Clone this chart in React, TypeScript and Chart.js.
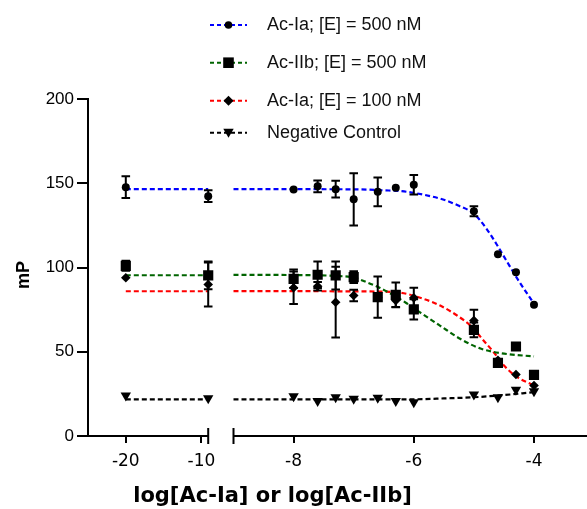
import React, { useEffect, useRef } from 'react';
import { Chart, registerables, LinearScale } from 'chart.js';

// ---------------- data ----------------
const SERIES_NAMES = ['Ac-Ia; [E] = 500 nM', 'Ac-IIb; [E] = 500 nM', 'Ac-Ia; [E] = 100 nM', 'Negative Control'];
const SERIES_COLORS = ['#0000ff', '#006400', '#ff0000', '#000000'];

// log concentration of measured points (left segment: -20 and ~-9.1)
const X_POINTS = [-20, -9.1, -8, -7.6, -7.3, -7.0, -6.6, -6.3, -6.0, -5.0, -4.6, -4.3, -4.0];

const IA500_Y = [147.7, 142.3, 146.3, 148.2, 146.5, 140.5, 144.9, 147.3, 149.1, 133.4, 107.9, 97.2, 77.9];
const IA500_SD = [6.5, 3.5, 0, 3.5, 5, 15.5, 8.5, 0, 5.8, 3, 0, 0, 0];

const IIB500_Y = [101.0, 95.3, 93.3, 95.7, 95.3, 94.3, 82.4, 83.8, 75.1, 63.0, 43.4, 53.1, 36.3];
const IIB500_SD = [3, 8.2, 5.5, 7.9, 8.3, 3.5, 12.2, 7.3, 6, 4.4, 0, 0, 0];

const IA100_Y = [93.9, 89.9, 88.0, 88.9, 79.4, 83.4, 82.0, 80.4, 82.0, 68.5, 45.0, 36.5, 30.0];
const IA100_SD = [0, 13, 9.6, 2.5, 21, 3.4, 0, 4, 6, 6.4, 0, 0, 0];

const NEG_Y = [24.0, 22.4, 23.6, 20.7, 23.0, 22.1, 22.7, 20.7, 20.1, 24.6, 23.0, 27.4, 26.5];
const NEG_SD = [0, 0, 0, 0, 0, 0, 0, 0, 0, 0, 0, 0, 0];

// fitted curves
const FIT_LEFT_X = [-20, -9.1];
const IA500_FIT_LEFT = [146.5, 146.5];
const IIB500_FIT_LEFT = [95.4, 95.4];
const IA100_FIT_LEFT = [85.9, 85.9];
const NEG_FIT_LEFT = [21.7, 21.7];

const IA500_FIT_X = [-9, -7, -6.5, -6.2, -5.85, -5.5, -5.25, -5.0, -4.8, -4.6, -4.45, -4.28, -4.0];
const IA500_FIT_Y = [146.5, 146.4, 145.8, 145.3, 143.3, 140.2, 136.6, 131.9, 123.5, 112.5, 103.5, 93.5, 78.5];

const IIB500_FIT_X = [-9, -7.8, -7.3, -7.0, -6.78, -6.56, -6.34, -6.12, -5.89, -5.56, -5.23, -4.89, -4.56, -4.0];
const IIB500_FIT_Y = [95.6, 95.5, 95.0, 94.0, 91.2, 87.8, 83.6, 78.8, 73.2, 65.4, 57.7, 51.9, 49.2, 47.2];

const IA100_FIT_X = [-9, -6.8, -6.22, -5.84, -5.56, -5.28, -5.06, -4.84, -4.67, -4.5, -4.28, -4.0];
const IA100_FIT_Y = [86.0, 85.8, 85.0, 81.4, 77.4, 71.5, 65.6, 56.7, 49.7, 41.8, 35.0, 30.0];

const NEG_FIT_X = [-9, -6, -5.5, -5.0, -4.5, -4.0];
const NEG_FIT_Y = [21.7, 21.8, 22.3, 23.0, 24.3, 26.0];

const X_TICKS = [-20, -10, -8, -6, -4];
const Y_TICKS = [0, 50, 100, 150, 200];
const X_TITLE = 'log[Ac-Ia] or log[Ac-IIb]';
const Y_TITLE = 'mP';

// ---------------- broken x axis scale ----------------
const BREAK = { leftMin: -25, leftMax: -9.1, leftUnit: 7.56, rightMin: -9, rightStart: 145.5, rightUnit: 60.1 };

class BrokenLinearScale extends LinearScale {
  static id = 'brokenLinear';
  getPixelForValue(value: any) {
    if (value === null || value === undefined || Number.isNaN(value)) return NaN;
    if (value <= (BREAK.leftMax + BREAK.rightMin) / 2) {
      return this.left + (value - BREAK.leftMin) * BREAK.leftUnit;
    }
    return this.left + BREAK.rightStart + (value - BREAK.rightMin) * BREAK.rightUnit;
  }
  getValueForPixel(pixel: number) {
    const rs = this.left + BREAK.rightStart;
    if (pixel < rs) return BREAK.leftMin + (pixel - this.left) / BREAK.leftUnit;
    return BREAK.rightMin + (pixel - rs) / BREAK.rightUnit;
  }
}

Chart.register(...registerables, BrokenLinearScale);

const MARKERS = [
  { style: 'circle', radius: 4, rotation: 0 },
  { style: 'rect', radius: 7.2, rotation: 0 },
  { style: 'rectRot', radius: 4.8, rotation: 0 },
  { style: 'triangle', radius: 6, rotation: 180 },
];

function pts(xs: number[], ys: number[]) {
  return xs.map((x, i) => ({ x, y: ys[i] }));
}

function fitData(left: number[], xs: number[], ys: number[]) {
  return [...pts(FIT_LEFT_X, left), { x: -9.05, y: null }, ...pts(xs, ys)];
}

function drawMarker(ctx: CanvasRenderingContext2D, kind: number, x: number, y: number) {
  ctx.beginPath();
  if (kind === 0) {
    ctx.arc(x, y, 3.8, 0, Math.PI * 2);
  } else if (kind === 1) {
    ctx.rect(x - 5.3, y - 5.3, 10.6, 10.6);
  } else if (kind === 2) {
    ctx.moveTo(x, y - 5);
    ctx.lineTo(x + 5, y);
    ctx.lineTo(x, y + 5);
    ctx.lineTo(x - 5, y);
    ctx.closePath();
  } else {
    ctx.moveTo(x - 5.2, y - 4);
    ctx.lineTo(x + 5.2, y - 4);
    ctx.lineTo(x, y + 5);
    ctx.closePath();
  }
  ctx.fillStyle = '#000';
  ctx.fill();
}

const overlayPlugin = {
  id: 'prismOverlay',
  beforeDatasetDraw(chart: any, args: any) {
    const ds = chart.data.datasets[args.index];
    const sd: number[] | undefined = ds.errorBars;
    if (!sd) return;
    const xs = chart.scales.x;
    const ys = chart.scales.y;
    const ctx = chart.ctx;
    ctx.save();
    ctx.strokeStyle = '#000';
    ctx.lineWidth = 2;
    ds.data.forEach((p: any, i: number) => {
      if (!sd[i]) return;
      const x = xs.getPixelForValue(p.x);
      const yt = ys.getPixelForValue(p.y + sd[i]);
      const yb = ys.getPixelForValue(p.y - sd[i]);
      ctx.beginPath();
      ctx.moveTo(x, yt);
      ctx.lineTo(x, yb);
      ctx.moveTo(x - 4.3, yt);
      ctx.lineTo(x + 4.3, yt);
      ctx.moveTo(x - 4.3, yb);
      ctx.lineTo(x + 4.3, yb);
      ctx.stroke();
    });
    ctx.restore();
  },
  afterDraw(chart: any) {
    const ctx: CanvasRenderingContext2D = chart.ctx;
    const xs = chart.scales.x;
    const area = chart.chartArea;
    const y0 = area.bottom;
    ctx.save();
    // broken x axis
    ctx.strokeStyle = '#000';
    ctx.lineWidth = 2;
    const lEnd = xs.getPixelForValue(BREAK.leftMax);
    const rStart = xs.getPixelForValue(BREAK.rightMin);
    ctx.beginPath();
    ctx.moveTo(area.left - 1, y0);
    ctx.lineTo(lEnd, y0);
    ctx.moveTo(lEnd, y0 - 8);
    ctx.lineTo(lEnd, y0 + 8);
    ctx.moveTo(rStart, y0 - 8);
    ctx.lineTo(rStart, y0 + 8);
    ctx.moveTo(rStart, y0);
    ctx.lineTo(chart.width, y0);
    ctx.stroke();

    // axis titles
    ctx.fillStyle = '#000';
    ctx.font = 'bold 21px "DejaVu Sans"';
    ctx.textAlign = 'center';
    ctx.textBaseline = 'middle';
    ctx.fillText(X_TITLE, 272.5, 497);
    ctx.save();
    ctx.translate(24, 275);
    ctx.rotate(-Math.PI / 2);
    ctx.font = 'bold 18px "Liberation Sans", Arial';
    ctx.fillText(Y_TITLE, 0, 0);
    ctx.restore();

    // legend
    const rows = [25, 62.7, 100.7, 132.7];
    SERIES_NAMES.forEach((name, i) => {
      const yy = rows[i];
      ctx.save();
      ctx.strokeStyle = SERIES_COLORS[i];
      ctx.lineWidth = 2;
      ctx.setLineDash([4, 3]);
      ctx.beginPath();
      ctx.moveTo(210, yy);
      ctx.lineTo(247, yy);
      ctx.stroke();
      ctx.restore();
      drawMarker(ctx, i, 228.5, yy);
      ctx.fillStyle = '#111';
      ctx.font = '18px "Liberation Sans", Arial';
      ctx.textAlign = 'left';
      ctx.textBaseline = 'middle';
      ctx.fillText(name, 267, yy);
    });
    ctx.restore();
  },
};

export default function App() {
  const ref = useRef<HTMLCanvasElement | null>(null);
  useEffect(() => {
    if (!ref.current) return;
    const ys = [IA500_Y, IIB500_Y, IA100_Y, NEG_Y];
    const sds = [IA500_SD, IIB500_SD, IA100_SD, NEG_SD];
    const fits = [
      fitData(IA500_FIT_LEFT, IA500_FIT_X, IA500_FIT_Y),
      fitData(IIB500_FIT_LEFT, IIB500_FIT_X, IIB500_FIT_Y),
      fitData(IA100_FIT_LEFT, IA100_FIT_X, IA100_FIT_Y),
      fitData(NEG_FIT_LEFT, NEG_FIT_X, NEG_FIT_Y),
    ];
    const pointSets: any[] = SERIES_NAMES.map((name, i) => ({
      label: name,
      data: pts(X_POINTS, ys[i]),
      errorBars: sds[i],
      showLine: false,
      pointStyle: MARKERS[i].style,
      pointRadius: MARKERS[i].radius,
      pointRotation: MARKERS[i].rotation,
      pointBackgroundColor: '#000',
      pointBorderColor: '#000',
      pointBorderWidth: 0,
      borderColor: '#000',
      backgroundColor: '#000',
    }));
    const fitSets: any[] = SERIES_NAMES.map((name, i) => ({
      label: name + ' fit',
      data: fits[i],
      showLine: true,
      spanGaps: false,
      borderColor: SERIES_COLORS[i],
      borderWidth: 2.2,
      borderDash: [5, 3],
      pointRadius: 0,
      cubicInterpolationMode: 'monotone',
      fill: false,
    }));
    const chart = new Chart(ref.current, {
      type: 'line',
      data: { datasets: [...pointSets, ...fitSets] },
      options: {
        animation: false,
        responsive: false,
        events: [],
        layout: { padding: { top: 99, left: 0, right: 0, bottom: 0 } },
        plugins: { legend: { display: false }, tooltip: { enabled: false } },
        scales: {
          x: {
            type: 'brokenLinear' as any,
            min: -25,
            max: -3,
            afterBuildTicks: (s: any) => {
              s.ticks = X_TICKS.map((v) => ({ value: v }));
            },
            afterFit: (s: any) => {
              s.height = 73;
            },
            border: { display: false },
            grid: { drawOnChartArea: false, drawTicks: true, tickLength: 7, color: '#000', lineWidth: 2 },
            ticks: {
              autoSkip: false,
              maxRotation: 0,
              padding: 8,
              color: '#000',
              font: { family: '"DejaVu Sans"', size: 17 },
              callback: (v: any) => String(v),
            },
          },
          y: {
            type: 'linear',
            min: 0,
            max: 200,
            afterBuildTicks: (s: any) => {
              s.ticks = Y_TICKS.map((v) => ({ value: v }));
            },
            afterFit: (s: any) => {
              s.width = 88;
            },
            border: { display: true, color: '#000', width: 2 },
            grid: { drawOnChartArea: false, drawTicks: true, tickLength: 11, color: '#000', lineWidth: 2 },
            ticks: {
              padding: 3,
              color: '#000',
              font: { family: '"Liberation Sans", Arial', size: 17 },
              callback: (v: any) => String(v),
            },
          },
        },
      },
      plugins: [overlayPlugin],
    } as any);
    return () => chart.destroy();
  }, []);
  return (
    <div style={{ position: 'absolute', left: 0, top: 0, width: 587, height: 509, background: '#fff' }}>
      <canvas ref={ref} width={587} height={509} style={{ display: 'block', width: 587, height: 509 }} />
    </div>
  );
}
